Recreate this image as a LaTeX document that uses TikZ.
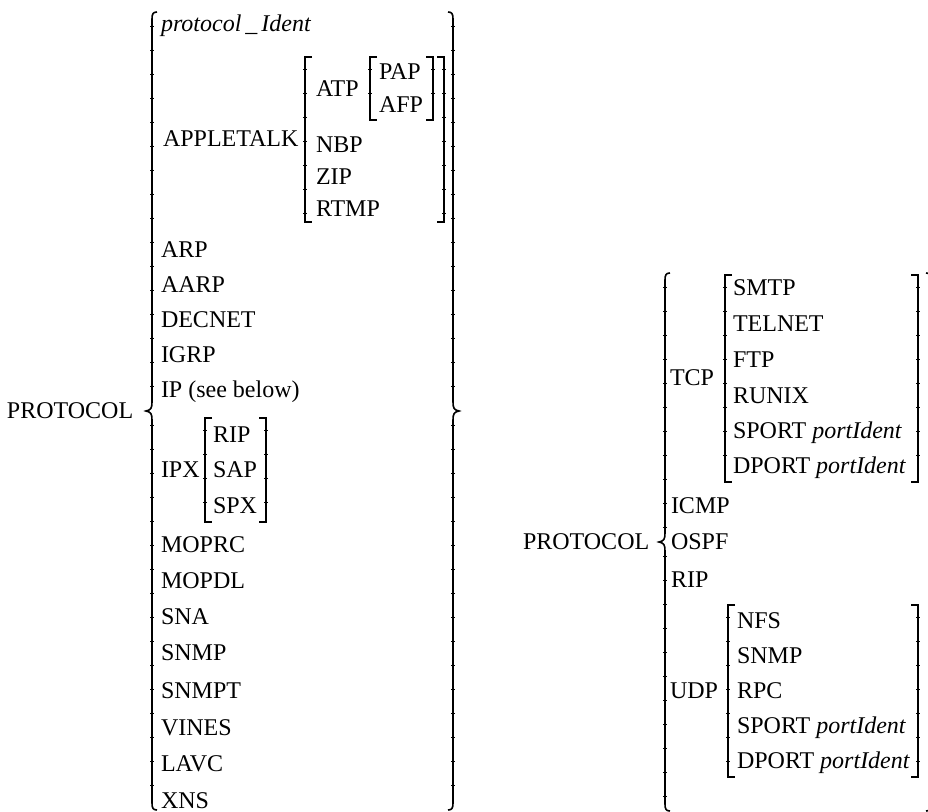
\documentclass[tikz,border=0pt]{standalone}
\usepackage{fontspec}
\setmainfont{Liberation Serif}
\newcommand\sqbra[3]{\draw[delim] (#1+7,#2) -- (#1,#2) -- (#1,#3) -- (#1+7,#3);
  \draw[tickmarks] (#1,#2+12) -- (#1,#3-8);}
\newcommand\sqket[3]{\draw[delim] (#1-7,#2) -- (#1,#2) -- (#1,#3) -- (#1-7,#3);
  \draw[tickmarks] (#1,#2+12) -- (#1,#3-8);}
\newcommand\curlyL[4]{\draw[delim] (#1+5,#2) .. controls (#1+1,#2) and (#1,#2+2) .. (#1,#2+7) -- (#1,#3-9) .. controls (#1,#3-3) and (#1-1,#3-1) .. (#1-6,#3) .. controls (#1-1,#3+1) and (#1,#3+3) .. (#1,#3+9) -- (#1,#4-7) .. controls (#1,#4-2) and (#1+1,#4) .. (#1+5,#4);
  \draw[tickmarks] (#1,#2+14) -- (#1,#3-12);
  \draw[tickmarks] (#1,#3+14) -- (#1,#4-8);}
\newcommand\curlyR[4]{\draw[delim] (#1-5,#2) .. controls (#1-1,#2) and (#1,#2+2) .. (#1,#2+7) -- (#1,#3-9) .. controls (#1,#3-3) and (#1+1,#3-1) .. (#1+6,#3) .. controls (#1+1,#3+1) and (#1,#3+3) .. (#1,#3+9) -- (#1,#4-7) .. controls (#1,#4-2) and (#1-1,#4) .. (#1-5,#4);
  \draw[tickmarks] (#1,#2+14) -- (#1,#3-12);
  \draw[tickmarks] (#1,#3+14) -- (#1,#4-8);}
\begin{document}
\begin{tikzpicture}[x=0.75pt,y=-0.75pt,
  lbl/.style={anchor=base west,inner sep=0pt,outer sep=0pt,font=\fontsize{18}{20}\selectfont},
  delim/.style={line width=1.2pt,line cap=butt,line join=miter},
  tickmarks/.style={line width=2.3pt,dash pattern=on 0.7pt off 17.3pt}]
\useasboundingbox (0,0) rectangle (928,812);
\clip (0,0) rectangle (928,812);
\fill[white] (0,0) rectangle (928,812);

% ---------------- left structure ----------------
\node[lbl] (lproto) at (7,419) {PROTOCOL};
\curlyL{152}{12}{411}{810}
\curlyR{453}{12}{411}{810}

\node[lbl] (pid) at (161,32) {\itshape protocol\,\_\,Ident};

\node[lbl] (apple) at (163,147) {APPLETALK};
\sqbra{305}{57}{222}
\sqket{444}{57}{222}
\node[lbl] (atp) at (316,97) {ATP};
\sqbra{370}{57}{120}
\sqket{433}{57}{120}
\node[lbl] (pap) at (379,80) {PAP};
\node[lbl] (afp) at (379,113) {AFP};
\node[lbl] (nbp) at (316,153) {NBP};
\node[lbl] (zip) at (316,185) {ZIP};
\node[lbl] (rtmp) at (316,217) {RTMP};

\node[lbl] (arp) at (161,258) {ARP};
\node[lbl] (aarp) at (161,293) {AARP};
\node[lbl] (decnet) at (161,328) {DECNET};
\node[lbl] (igrp) at (161,363) {IGRP};
\node[lbl] (ip) at (161,398) {IP (see below)};

\node[lbl] (ipx) at (161,478) {IPX};
\sqbra{205}{418}{522}
\sqket{266}{418}{522}
\node[lbl] (rip) at (213,443) {RIP};
\node[lbl] (sap) at (213,478) {SAP};
\node[lbl] (spx) at (213,513) {SPX};

\node[lbl] (moprc) at (161,552) {MOPRC};
\node[lbl] (mopdl) at (161,588) {MOPDL};
\node[lbl] (sna) at (161,624) {SNA};
\node[lbl] (snmp) at (161,660) {SNMP};
\node[lbl] (snmpt) at (161,698) {SNMPT};
\node[lbl] (vines) at (161,735) {VINES};
\node[lbl] (lavc) at (161,771) {LAVC};
\node[lbl] (xns) at (161,808) {XNS};

% ---------------- right structure ----------------
\node[lbl] (rproto) at (523,550) {PROTOCOL};
\curlyL{665}{273}{542}{811}
\curlyR{931}{273}{542}{811}

\node[lbl] (tcp) at (670,386) {TCP};
\sqbra{725}{275}{482}
\sqket{918}{275}{482}
\node[lbl] (smtp) at (733,296) {SMTP};
\node[lbl] (telnet) at (733,332) {TELNET};
\node[lbl] (ftp) at (733,368) {FTP};
\node[lbl] (runix) at (733,404) {RUNIX};
\node[lbl] (tsport) at (733,439) {SPORT \itshape portIdent};
\node[lbl] (tdport) at (733,474) {DPORT \itshape portIdent};

\node[lbl] (icmp) at (671,513) {ICMP};
\node[lbl] (ospf) at (671,550) {OSPF};
\node[lbl] (rrip) at (671,587) {RIP};

\node[lbl] (udp) at (670,698) {UDP};
\sqbra{728}{605}{777}
\sqket{918}{605}{777}
\node[lbl] (nfs) at (737,628) {NFS};
\node[lbl] (usnmp) at (737,663) {SNMP};
\node[lbl] (rpc) at (737,698) {RPC};
\node[lbl] (usport) at (737,733) {SPORT \itshape portIdent};
\node[lbl] (udport) at (737,768) {DPORT \itshape portIdent};
\end{tikzpicture}
\end{document}
